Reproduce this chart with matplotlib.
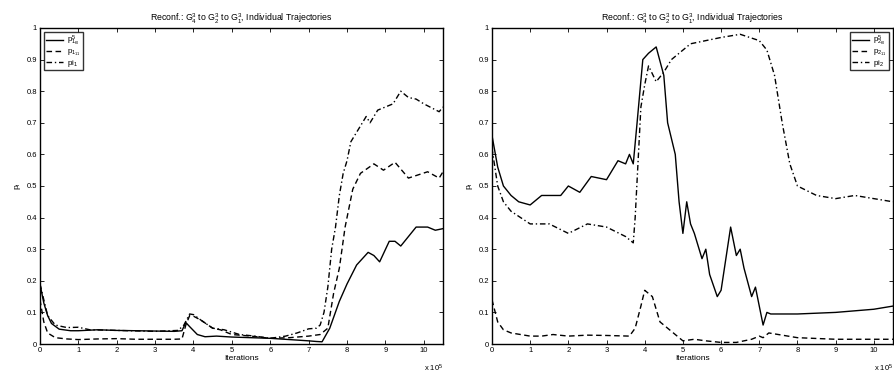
import numpy as np
import matplotlib
matplotlib.use('Agg')
import matplotlib.pyplot as plt

plt.rcParams['font.family'] = ['Liberation Sans', 'DejaVu Sans']
plt.rcParams['mathtext.default'] = 'regular'

# iterations in units of 1e5
# left run (G1 target)
x1_f0 = [0, 0.1, 0.2, 0.3, 0.5, 0.8, 1.0, 1.5, 2.0, 2.5, 3.0, 3.5, 3.7, 3.8, 3.9, 4.1, 4.3, 4.6,
         5.0, 5.5, 6.0, 6.5, 7.0, 7.2, 7.35, 7.55, 7.8, 8.0, 8.25, 8.55, 8.7, 8.85, 9.1, 9.25,
         9.4, 9.6, 9.8, 10.1, 10.3, 10.5]
y1_f0 = [0.19, 0.13, 0.09, 0.065, 0.047, 0.042, 0.042, 0.045, 0.043, 0.042, 0.041, 0.040, 0.042,
         0.068, 0.055, 0.030, 0.023, 0.025, 0.022, 0.020, 0.018, 0.014, 0.010, 0.008, 0.007,
         0.05, 0.135, 0.19, 0.25, 0.29, 0.28, 0.26, 0.325, 0.325, 0.31, 0.34, 0.37, 0.37, 0.36,
         0.365]
x1_11 = [0, 0.1, 0.2, 0.4, 0.7, 1.0, 1.5, 2.0, 2.5, 3.0, 3.5, 3.7, 3.8, 3.9, 4.0, 4.2, 4.5, 4.7,
         5.0, 5.5, 6.0, 6.5, 7.0, 7.3, 7.5, 7.65, 7.8, 7.95, 8.15, 8.35, 8.7, 8.95, 9.25, 9.6,
         10.1, 10.4, 10.5]
y1_11 = [0.14, 0.07, 0.035, 0.02, 0.016, 0.014, 0.016, 0.017, 0.015, 0.015, 0.015, 0.016, 0.06,
         0.09, 0.088, 0.075, 0.05, 0.045, 0.03, 0.025, 0.018, 0.02, 0.025, 0.03, 0.05, 0.16,
         0.24, 0.37, 0.49, 0.54, 0.57, 0.55, 0.575, 0.525, 0.545, 0.525, 0.545]
x1_pi = [0, 0.2, 0.4, 0.7, 1.0, 1.3, 2.0, 3.0, 3.6, 3.75, 3.9, 4.0, 4.2, 4.5, 4.8, 5.2, 5.6,
         6.0, 6.4, 6.7, 7.0, 7.2, 7.3, 7.4, 7.5, 7.6, 7.7, 7.8, 7.9, 8.0, 8.1, 8.25, 8.5,
         8.6, 8.8, 9.0, 9.2, 9.4, 9.6, 9.8, 10.0, 10.4, 10.5]
y1_pi = [0.19, 0.09, 0.06, 0.052, 0.053, 0.045, 0.043, 0.040, 0.043, 0.06, 0.095, 0.093, 0.075,
         0.05, 0.045, 0.03, 0.025, 0.018, 0.025, 0.035, 0.048, 0.05, 0.06, 0.10, 0.18, 0.30,
         0.37, 0.47, 0.54, 0.58, 0.64, 0.67, 0.72, 0.70, 0.74, 0.75, 0.76, 0.80, 0.78, 0.775,
         0.76, 0.735, 0.75]

# right run (G2 target)
x2_f0 = [0, 0.15, 0.3, 0.5, 0.7, 1.0, 1.3, 1.8, 2.0, 2.3, 2.6, 3.0, 3.3, 3.5, 3.6, 3.7, 3.8,
         3.95, 4.1, 4.3, 4.5, 4.6, 4.8, 4.9, 5.0, 5.1, 5.2, 5.3, 5.5, 5.6, 5.7, 5.9, 6.0, 6.1,
         6.25, 6.4, 6.5, 6.6, 6.8, 6.9, 7.0, 7.1, 7.2, 7.3, 8.0, 9.0, 10.0, 10.5]
y2_f0 = [0.66, 0.56, 0.50, 0.47, 0.45, 0.44, 0.47, 0.47, 0.50, 0.48, 0.53, 0.52, 0.58, 0.57,
         0.60, 0.57, 0.70, 0.90, 0.92, 0.94, 0.85, 0.70, 0.60, 0.45, 0.35, 0.45, 0.38, 0.35,
         0.27, 0.30, 0.22, 0.15, 0.17, 0.25, 0.37, 0.28, 0.30, 0.24, 0.15, 0.18, 0.12, 0.06,
         0.10, 0.095, 0.095, 0.10, 0.11, 0.12]
x2_11 = [0, 0.15, 0.3, 0.5, 1.0, 1.3, 1.6, 2.0, 2.5, 3.0, 3.6, 3.75, 3.9, 4.0, 4.1, 4.2, 4.4,
         4.6, 4.9, 5.0, 5.3, 5.6, 6.0, 6.4, 6.8, 7.0, 7.1, 7.25, 7.5, 8.0, 9.0, 10.5]
y2_11 = [0.14, 0.07, 0.045, 0.035, 0.025, 0.025, 0.03, 0.025, 0.028, 0.027, 0.025, 0.05, 0.12,
         0.17, 0.16, 0.15, 0.07, 0.05, 0.02, 0.01, 0.015, 0.01, 0.005, 0.005, 0.015, 0.025,
         0.02, 0.035, 0.03, 0.02, 0.015, 0.015]
x2_pi = [0, 0.15, 0.3, 0.5, 1.0, 1.5, 2.0, 2.5, 3.0, 3.5, 3.7, 3.75, 3.9, 4.0, 4.1, 4.3, 4.5,
         4.7, 4.9, 5.2, 6.0, 6.5, 7.0, 7.2, 7.4, 7.6, 7.8, 8.0, 8.5, 9.0, 9.5, 10.0, 10.5]
y2_pi = [0.62, 0.50, 0.45, 0.42, 0.38, 0.38, 0.35, 0.38, 0.37, 0.34, 0.32, 0.40, 0.75, 0.82,
         0.88, 0.83, 0.86, 0.90, 0.92, 0.95, 0.97, 0.98, 0.96, 0.93, 0.85, 0.70, 0.57, 0.50,
         0.47, 0.46, 0.47, 0.46, 0.45]

title = r'Reconf.: G$^3_4$ to G$^3_2$ to G$^3_1$, Individual Trajectories'
lab1 = [r'$p^5_{1_{f0}}$', r'$p_{1_{11}}$', r'$pi_1$']
lab2 = [r'$p^5_{2_{f0}}$', r'$p_{2_{11}}$', r'$pi_2$']

fig = plt.figure(figsize=(8.94, 3.74), dpi=100)
ax1 = fig.add_axes([0.0447, 0.0802, 0.4508, 0.845])
ax2 = fig.add_axes([0.5503, 0.0802, 0.4485, 0.845])

def draw(ax, curves, labels, loc):
    styles = ['-', (0, (4, 2.5)), (0, (4, 2, 1, 2))]
    for (x, y), ls, lb in zip(curves, styles, labels):
        ax.plot(x, y, color='k', lw=1.0, ls=ls, label=lb)
    ax.set_xlim(0, 10.5)
    ax.set_ylim(0, 1)
    ax.set_xticks(range(0, 11))
    ax.set_yticks(np.arange(0, 1.01, 0.1))
    ax.set_yticklabels(['0'] + ['%.1f' % v for v in np.arange(0.1, 0.95, 0.1)] + ['1'])
    ax.tick_params(direction='in', top=True, right=True, length=3, width=0.6,
                   labelsize=5.5, pad=2)
    for s in ax.spines.values():
        s.set_linewidth(1.0)
    ax.set_title(title, fontsize=6.3, pad=5)
    ax.set_xlabel('Iterations', fontsize=6, labelpad=1)
    ax.set_ylabel(r'$p_i$', fontsize=6, labelpad=3)
    ax.text(1.0, -0.076, r'x 10$^5$', transform=ax.transAxes, fontsize=5.5,
            ha='right', va='center')
    leg = ax.legend(loc=loc, fontsize=5.8, frameon=True, fancybox=False,
                    handlelength=2.2, handletextpad=0.5, borderpad=0.2,
                    labelspacing=0.0, borderaxespad=0.5)
    leg.get_frame().set_edgecolor('k')
    leg.get_frame().set_linewidth(1.0)

draw(ax1, [(x1_f0, y1_f0), (x1_11, y1_11), (x1_pi, y1_pi)], lab1, 'upper left')
draw(ax2, [(x2_f0, y2_f0), (x2_11, y2_11), (x2_pi, y2_pi)], lab2, 'upper right')

fig.savefig('out.png', dpi=100)
